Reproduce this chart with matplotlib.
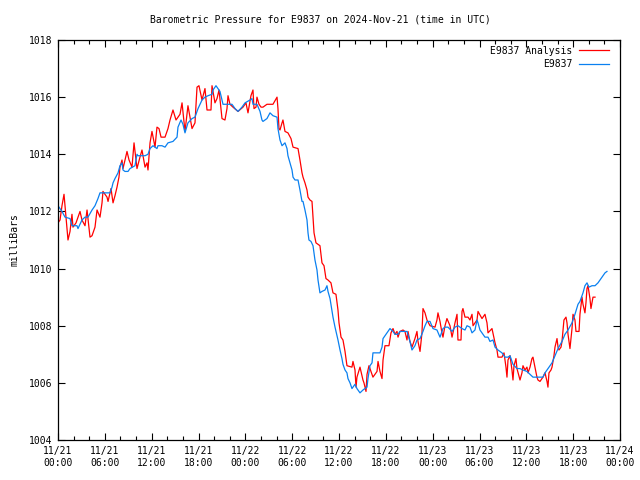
import matplotlib
matplotlib.use("Agg")
import matplotlib.pyplot as plt
import matplotlib.dates as mdates
from datetime import datetime, timedelta

title = "Barometric Pressure for E9837 on 2024-Nov-21 (time in UTC)"
ylabel = "milliBars"
series_names = ["E9837 Analysis", "E9837"]
start = datetime(2024, 11, 21, 0, 0)
end = datetime(2024, 11, 24, 0, 0)

# hours since 2024-11-21 00:00 UTC and pressure (mb)
analysis_hours = [
    0.00, 0.26, 0.51, 0.77, 1.02, 1.28, 1.54, 1.79, 1.92, 2.31, 2.82, 3.07, 3.46, 3.72, 4.10, 4.36,
    4.74, 5.00, 5.38, 5.64, 5.76, 6.02, 6.28, 6.41, 6.79, 7.05, 7.30, 7.56, 7.81, 7.94, 8.20, 8.33,
    8.58, 8.84, 9.10, 9.48, 9.74, 10.12, 10.50, 10.76, 11.15, 11.40, 11.53, 11.79, 12.04, 12.43,
    12.68, 12.94, 13.20, 13.71, 14.09, 14.35, 14.73, 15.12, 15.63, 15.89, 16.27, 16.65, 17.17,
    17.55, 17.81, 18.06, 18.45, 18.83, 19.09, 19.60, 19.73, 20.11, 20.37, 20.63, 21.01, 21.39,
    21.65, 21.78, 22.03, 22.42, 23.06, 23.70, 24.08, 24.34, 24.72, 24.98, 25.11, 25.37, 25.49,
    25.75, 26.01, 26.26, 26.77, 27.54, 28.06, 28.18, 28.31, 28.44, 28.70, 28.82, 29.08, 29.46,
    29.85, 30.11, 30.75, 31.00, 31.26, 31.39, 31.64, 31.90, 32.03, 32.28, 32.54, 32.67, 32.80,
    33.05, 33.56, 33.82, 34.08, 34.33, 34.59, 34.97, 35.23, 35.61, 35.87, 36.00, 36.26, 36.51,
    36.77, 37.02, 37.66, 37.79, 38.05, 38.18, 38.30, 38.69, 39.07, 39.20, 39.46, 39.59, 39.84,
    40.10, 40.35, 40.87, 41.00, 41.25, 41.51, 41.64, 41.89, 42.40, 42.66, 42.92, 43.17, 43.43,
    43.56, 43.81, 44.20, 44.45, 44.71, 44.84, 45.09, 45.35, 45.73, 45.99, 46.12, 46.38, 46.63,
    46.76, 47.02, 47.27, 47.66, 48.30, 48.55, 48.68, 48.94, 49.19, 49.32, 49.58, 49.83, 50.22,
    50.48, 50.60, 50.86, 51.12, 51.24, 51.63, 51.76, 51.88, 52.14, 52.53, 52.78, 53.04, 53.17,
    53.68, 53.81, 54.32, 54.70, 54.96, 55.09, 55.60, 55.99, 56.24, 56.37, 56.88, 57.14, 57.39,
    57.52, 57.65, 57.91, 58.16, 58.29, 58.42, 58.67, 58.80, 59.19, 59.44, 59.57, 59.83, 60.08,
    60.21, 60.47, 60.72, 60.85, 61.11, 61.36, 61.49, 61.75, 62.01, 62.13, 62.39, 62.65, 62.77,
    62.90, 63.16, 63.29, 63.54, 63.67, 63.93, 64.06, 64.18, 64.44, 64.57, 64.82, 65.08, 65.21,
    65.34, 65.59, 65.85, 65.98, 66.23, 66.36, 66.75, 66.87, 67.13, 67.26, 67.51, 67.64, 67.77,
    67.90, 68.15, 68.28, 68.41, 68.54, 68.80,
]
analysis_mb = [
    1011.6, 1011.7, 1012.2, 1012.6, 1011.8, 1011.0, 1011.3, 1011.9, 1011.45, 1011.6, 1012.0, 1011.7,
    1011.5, 1012.05, 1011.1, 1011.15, 1011.45, 1012.05, 1011.8, 1012.3, 1012.7, 1012.6, 1012.5,
    1012.35, 1012.8, 1012.3, 1012.55, 1012.85, 1013.2, 1013.55, 1013.8, 1013.5, 1013.8, 1014.1,
    1013.8, 1013.55, 1014.4, 1013.5, 1013.9, 1014.15, 1013.55, 1013.7, 1013.45, 1014.4, 1014.8,
    1014.25, 1014.95, 1014.9, 1014.6, 1014.6, 1014.9, 1015.2, 1015.55, 1015.2, 1015.4, 1015.8,
    1014.8, 1015.7, 1014.9, 1015.1, 1016.35, 1016.4, 1015.9, 1016.3, 1015.55, 1015.55, 1016.4,
    1015.8, 1015.95, 1016.25, 1015.25, 1015.2, 1015.6, 1016.05, 1015.75, 1015.65, 1015.5, 1015.65,
    1015.8, 1015.45, 1016.05, 1016.25, 1015.6, 1015.65, 1016.0, 1015.75, 1015.65, 1015.65, 1015.75,
    1015.75, 1016.0, 1015.6, 1014.9, 1014.85, 1015.1, 1015.2, 1014.8, 1014.75, 1014.55, 1014.25,
    1014.2, 1013.8, 1013.35, 1013.2, 1013.0, 1012.75, 1012.5, 1012.4, 1012.35, 1011.8, 1011.25,
    1010.9, 1010.8, 1010.2, 1010.1, 1009.65, 1009.6, 1009.5, 1009.15, 1009.1, 1008.55, 1008.1,
    1007.6, 1007.5, 1007.1, 1006.6, 1006.55, 1006.75, 1006.45, 1005.85, 1006.2, 1006.55, 1006.1,
    1006.0, 1005.7, 1006.3, 1006.6, 1006.4, 1006.2, 1006.4, 1006.75, 1006.4, 1006.15, 1006.8,
    1007.3, 1007.3, 1007.75, 1007.9, 1007.7, 1007.8, 1007.6, 1007.8, 1007.85, 1007.8, 1007.5,
    1007.8, 1007.45, 1007.25, 1007.55, 1007.8, 1007.45, 1007.1, 1007.75, 1008.6, 1008.45, 1008.2,
    1008.0, 1007.95, 1008.2, 1008.45, 1008.15, 1007.75, 1007.6, 1008.0, 1008.25, 1008.0, 1007.6,
    1007.75, 1008.1, 1008.4, 1007.5, 1007.5, 1008.5, 1008.6, 1008.3, 1008.3, 1008.2, 1008.4,
    1008.0, 1008.2, 1008.5, 1008.25, 1008.4, 1008.1, 1007.75, 1007.9, 1007.4, 1007.15, 1006.9,
    1006.9, 1007.05, 1006.55, 1006.2, 1006.8, 1006.95, 1006.45, 1006.1, 1006.6, 1006.85, 1006.5,
    1006.1, 1006.35, 1006.6, 1006.45, 1006.55, 1006.35, 1006.55, 1006.85, 1006.9, 1006.55, 1006.2,
    1006.1, 1006.05, 1006.15, 1006.2, 1006.35, 1006.05, 1005.85, 1006.35, 1006.45, 1006.55,
    1006.95, 1007.25, 1007.55, 1007.25, 1007.15, 1007.25, 1007.45, 1008.2, 1008.3, 1008.1, 1007.7,
    1007.2, 1007.9, 1008.4, 1008.2, 1007.8, 1007.8, 1008.4, 1009.0, 1008.75, 1008.45, 1008.8,
    1009.3, 1009.4, 1008.95, 1008.6, 1008.8, 1009.0, 1009.0,
]

station_hours = [
    0.00, 0.51, 0.90, 1.54, 1.79, 2.43, 2.56, 3.07, 3.46, 3.84, 4.36, 4.74, 5.12, 5.38, 6.66, 6.92,
    7.05, 7.30, 7.69, 7.94, 8.20, 8.33, 8.58, 8.97, 9.22, 9.86, 10.12, 10.25, 11.15, 11.53, 11.79,
    12.17, 12.68, 12.81, 13.32, 13.71, 14.09, 14.73, 15.25, 15.37, 15.76, 16.01, 16.27, 16.65,
    17.17, 17.55, 17.94, 18.45, 18.83, 19.22, 19.73, 19.86, 20.24, 20.50, 20.75, 21.01, 21.14,
    22.29, 22.68, 23.06, 23.57, 23.96, 24.60, 24.85, 24.98, 25.49, 25.88, 26.13, 26.26, 26.77,
    27.16, 27.54, 28.06, 28.18, 28.44, 28.70, 29.08, 29.34, 29.46, 29.72, 29.98, 30.11, 30.36,
    30.75, 31.00, 31.26, 31.39, 31.64, 31.90, 32.03, 32.15, 32.41, 32.67, 32.92, 33.18, 33.31,
    33.56, 33.82, 34.21, 34.46, 34.59, 34.85, 35.23, 35.49, 35.74, 35.87, 36.13, 36.38, 36.51,
    36.77, 37.02, 37.15, 37.41, 37.66, 38.05, 38.30, 38.69, 39.07, 39.59, 39.71, 39.97, 40.23,
    40.35, 41.25, 41.51, 41.64, 42.15, 42.53, 42.92, 43.17, 43.56, 43.81, 44.71, 45.09, 45.35,
    45.73, 45.99, 46.38, 46.76, 47.02, 47.27, 47.66, 48.04, 48.55, 48.94, 49.32, 49.58, 49.96,
    50.48, 50.86, 51.24, 51.76, 52.14, 52.40, 52.78, 53.04, 53.42, 53.68, 53.81, 54.06, 54.32,
    54.70, 55.09, 55.34, 55.73, 55.99, 56.37, 56.88, 57.27, 57.65, 57.91, 58.29, 58.80, 59.19,
    59.57, 60.08, 60.47, 60.85, 62.13, 62.39, 62.77, 63.29, 63.67, 64.06, 64.57, 64.95, 65.34,
    65.85, 66.23, 66.62, 66.87, 67.26, 67.51, 67.77, 68.03, 68.41, 68.80, 69.18, 69.69, 70.08,
    70.33,
]
station_mb = [
    1012.2, 1012.0, 1011.8, 1011.75, 1011.5, 1011.5, 1011.4, 1011.7, 1011.8, 1011.8, 1012.05,
    1012.2, 1012.45, 1012.65, 1012.65, 1012.85, 1013.0, 1013.15, 1013.35, 1013.6, 1013.7, 1013.45,
    1013.4, 1013.4, 1013.5, 1013.6, 1014.0, 1013.95, 1013.95, 1014.0, 1014.2, 1014.3, 1014.2,
    1014.3, 1014.3, 1014.25, 1014.4, 1014.45, 1014.6, 1014.95, 1015.2, 1015.05, 1014.75, 1015.1,
    1015.25, 1015.3, 1015.6, 1015.9, 1016.0, 1016.05, 1016.1, 1016.25, 1016.4, 1016.3, 1016.2,
    1015.9, 1015.75, 1015.75, 1015.6, 1015.5, 1015.65, 1015.8, 1015.9, 1015.95, 1015.75, 1015.75,
    1015.5, 1015.2, 1015.15, 1015.25, 1015.45, 1015.35, 1015.3, 1014.9, 1014.5, 1014.3, 1014.4,
    1014.2, 1013.95, 1013.7, 1013.45, 1013.2, 1013.1, 1013.1, 1012.75, 1012.35, 1012.35, 1012.05,
    1011.7, 1011.25, 1011.0, 1010.95, 1010.8, 1010.3, 1009.95, 1009.6, 1009.15, 1009.2, 1009.25,
    1009.4, 1009.2, 1008.95, 1008.3, 1007.95, 1007.65, 1007.5, 1007.15, 1006.85, 1006.65, 1006.45,
    1006.35, 1006.15, 1006.0, 1005.8, 1005.95, 1005.8, 1005.65, 1005.75, 1005.85, 1006.15, 1006.6,
    1006.7, 1007.05, 1007.05, 1007.25, 1007.55, 1007.75, 1007.9, 1007.8, 1007.7, 1007.7, 1007.8,
    1007.8, 1007.45, 1007.15, 1007.3, 1007.5, 1007.55, 1007.8, 1008.0, 1008.15, 1008.15, 1007.9,
    1007.85, 1007.6, 1007.9, 1007.95, 1007.95, 1007.8, 1007.95, 1008.0, 1007.9, 1007.85, 1008.0,
    1007.95, 1007.75, 1007.85, 1008.2, 1008.1, 1007.85, 1007.75, 1007.6, 1007.6, 1007.45, 1007.5,
    1007.25, 1007.15, 1007.05, 1006.9, 1006.9, 1006.95, 1006.65, 1006.5, 1006.5, 1006.45, 1006.4,
    1006.3, 1006.2, 1006.2, 1006.35, 1006.5, 1006.7, 1006.95, 1007.2, 1007.45, 1007.7, 1007.85,
    1008.1, 1008.4, 1008.75, 1008.85, 1009.15, 1009.4, 1009.5, 1009.35, 1009.4, 1009.4, 1009.5,
    1009.7, 1009.85, 1009.9,
]
y_ticks = [1004, 1006, 1008, 1010, 1012, 1014, 1016, 1018]

plt.rcParams['font.family'] = ['DejaVu Sans Mono']
FS = 7

fig = plt.figure(figsize=(6.4, 4.8), dpi=100)
ax = fig.add_axes([58 / 640, 40 / 480, 562 / 640, 400 / 480])

t_a = [start + timedelta(hours=h) for h in analysis_hours]
t_s = [start + timedelta(hours=h) for h in station_hours]
ax.plot(t_a, analysis_mb, color='#ff0000', lw=0.9, label=series_names[0])
ax.plot(t_s, station_mb, color='#0a80f0', lw=0.9, label=series_names[1])

ax.set_xlim(start, end)
ax.set_ylim(1004, 1018)
ax.set_yticks(y_ticks)
ax.set_yticklabels([str(v) for v in y_ticks])
ax.xaxis.set_major_locator(mdates.HourLocator(byhour=[0, 6, 12, 18]))
ax.xaxis.set_minor_locator(mdates.HourLocator(byhour=range(0, 24, 2)))
ax.xaxis.set_major_formatter(mdates.DateFormatter('%m/%d\n%H:%M'))

ax.tick_params(axis='both', which='major', direction='in', length=5, width=0.8,
               top=True, right=True, labelsize=FS, pad=4)
ax.tick_params(axis='x', which='minor', direction='in', length=3, width=0.8, top=True)
for lbl in ax.get_xticklabels():
    lbl.set_linespacing(1.35)
for s in ax.spines.values():
    s.set_linewidth(0.9)

fig.text(0.5, 1 - 20 / 480, title, ha='center', va='center', fontsize=FS)
fig.text(14 / 640, 0.5, ylabel, ha='center', va='center', rotation=90, fontsize=FS)

ax.legend(loc='upper right', bbox_to_anchor=(0.99, 1.0), frameon=False, markerfirst=False,
          fontsize=FS, handlelength=3.0, handletextpad=0.7, labelspacing=0.35,
          borderaxespad=0.2)

fig.savefig('out.png', dpi=100)
